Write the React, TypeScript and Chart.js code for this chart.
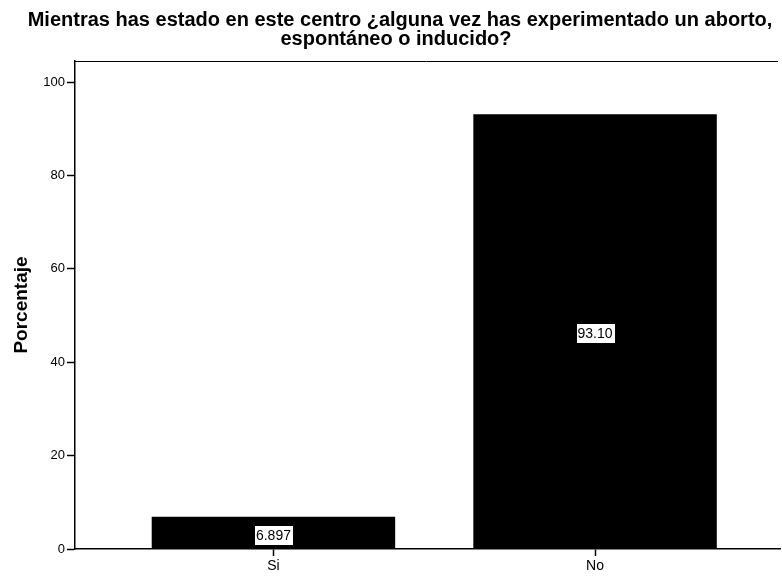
import React, { useEffect, useRef } from "react";
import { Chart, registerables } from "chart.js";

Chart.register(...registerables);

const titleLines = [
  "Mientras has estado en este centro ¿alguna vez has experimentado un aborto,",
  "espontáneo o inducido?",
];
const categories = ["Si", "No"];
const percentages = [6.897, 93.1];
const valueLabels = ["6.897", "93.10"];
const yTicks = [0, 20, 40, 60, 80, 100];
const yAxisTitle = "Porcentaje";

const FONT = "'Liberation Sans', Arial, Helvetica, sans-serif";

const titlePlugin = {
  id: "customTitle",
  afterDraw(chart: any) {
    const ctx = chart.ctx;
    ctx.save();
    ctx.fillStyle = "#000";
    ctx.font = `bold 20px ${FONT}`;
    ctx.textAlign = "center";
    ctx.textBaseline = "alphabetic";
    ctx.fillText(titleLines[0], 400, 26);
    ctx.fillText(titleLines[1], 396, 45);
    ctx.restore();
  },
};

const framePlugin = {
  id: "frameTop",
  afterDraw(chart: any) {
    const { ctx, chartArea } = chart;
    ctx.save();
    ctx.strokeStyle = "#000";
    ctx.lineWidth = 1;
    ctx.beginPath();
    ctx.moveTo(chartArea.left, Math.round(chartArea.top) + 0.5);
    ctx.lineTo(chartArea.right - 2, Math.round(chartArea.top) + 0.5);
    ctx.stroke();
    ctx.restore();
  },
};

const valueLabelPlugin = {
  id: "valueLabels",
  afterDatasetsDraw(chart: any) {
    const ctx = chart.ctx;
    const meta = chart.getDatasetMeta(0);
    ctx.save();
    ctx.font = `14px ${FONT}`;
    ctx.textAlign = "center";
    ctx.textBaseline = "middle";
    meta.data.forEach((bar: any, i: number) => {
      const text = valueLabels[i];
      const cx = bar.x;
      const cy = (bar.y + bar.base) / 2 + 2;
      const w = Math.round(ctx.measureText(text).width + 4);
      const h = 20;
      const x0 = Math.round(cx - w / 2) + 0.5;
      const y0 = Math.round(cy - h / 2) + 0.5;
      ctx.fillStyle = "#fff";
      ctx.fillRect(x0, y0, w, h);
      ctx.strokeStyle = "#000";
      ctx.lineWidth = 1;
      ctx.strokeRect(x0, y0, w, h);
      ctx.fillStyle = "#000";
      ctx.fillText(text, cx, cy + 1);
    });
    ctx.restore();
  },
};

export default function App() {
  const canvasRef = useRef<HTMLCanvasElement | null>(null);

  useEffect(() => {
    if (!canvasRef.current) return;
    const chart = new Chart(canvasRef.current, {
      type: "bar",
      data: {
        datasets: [
          {
            data: percentages.map((v, i) => ({ x: i, y: v })) as any,
            backgroundColor: "#000",
            borderWidth: 0,
            categoryPercentage: 1,
            barPercentage: 0.757,
          },
        ],
      },
      options: {
        responsive: false,
        animation: false,
        events: [],
        layout: { padding: { top: 61, right: 2, left: 0, bottom: 0 } },
        plugins: {
          legend: { display: false },
          title: { display: false },
          tooltip: { enabled: false },
        },
        scales: {
          x: {
            type: "linear",
            offset: false,
            min: -0.617,
            max: 1.575,
            afterBuildTicks: (scale: any) => {
              scale.ticks = categories.map((_, i) => ({ value: i }));
            },
            afterFit: (scale: any) => {
              scale.height = 29;
            },
            ticks: {
              callback: (v: any) => categories[v] ?? "",
              color: "#000",
              font: { family: FONT, size: 14 },
              padding: 2,
              maxRotation: 0,
            },
            grid: {
              display: true,
              offset: false,
              drawOnChartArea: false,
              drawTicks: true,
              tickLength: 7,
              tickWidth: 1.5,
              color: "#000",
            },
            border: { display: true, color: "#000", width: 1.5 },
          },
          y: {
            type: "linear",
            min: 0,
            max: 104.5,
            afterBuildTicks: (scale: any) => {
              scale.ticks = yTicks.map((v) => ({ value: v }));
            },
            afterFit: (scale: any) => {
              scale.width = 75;
            },
            ticks: {
              color: "#000",
              font: { family: FONT, size: 13 },
              padding: 2,
            },
            grid: {
              display: true,
              drawOnChartArea: false,
              drawTicks: true,
              tickLength: 8,
              tickWidth: 1.5,
              color: "#000",
            },
            border: { display: true, color: "#000", width: 1.5 },
            title: {
              display: true,
              text: yAxisTitle,
              color: "#000",
              font: { family: FONT, size: 19, weight: "bold" },
              padding: { top: 10, bottom: 0 },
            },
          },
        },
      },
      plugins: [titlePlugin, framePlugin, valueLabelPlugin],
    });
    return () => chart.destroy();
  }, []);

  return (
    <div style={{ position: "fixed", left: 0, top: 0, width: 782, height: 578, background: "#fff" }}>
      <canvas ref={canvasRef} width={782} height={578} style={{ display: "block" }} />
    </div>
  );
}
